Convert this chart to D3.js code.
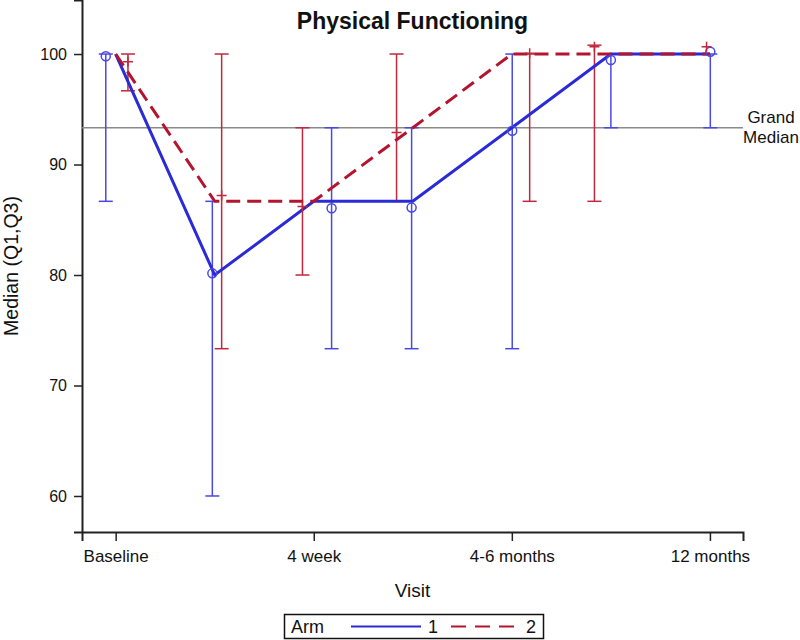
<!DOCTYPE html>
<html>
<head>
<meta charset="utf-8">
<script src="https://cdn.jsdelivr.net/npm/d3@7"></script>
<style>
	body { margin: 0; background: #fff; }
	svg { display: block; }
	svg text { font-family: 'Liberation Sans', Arial, sans-serif; fill: #111; }
	.axis path, .axis line { stroke: #222; }
	.axis text { font-size: 16px; }
	.axis--x text { font-size: 17px; }
</style>
</head>
<body>
<div class="chart"></div>
<script>
const WIDTH = 800;
const HEIGHT = 640;

const VISITS = ['Baseline', '4 week', '4-6 months', '12 months'];
const VISIT_TICKS = [1, 2, 3, 4];
const Y_TICKS = [60, 70, 80, 90, 100];
const GRAND_MEDIAN = 93.33;

// connecting lines (median per visit step)
const LINE_POS = [1, 1.5, 2, 2.5, 3, 3.5, 4];
const ARM1_LINE = [100, 80, 86.67, 86.67, 93.33, 100, 100];
const ARM2_LINE = [100, 86.67, 86.67, 93.33, 100, 100, 100];

// jittered markers with Q1-Q3 bars
const ARM1_POS = [0.95, 1.488, 2.09, 2.494, 3.002, 3.5, 4.002];
const ARM1_MEDIAN = [99.8, 80.15, 86.04, 86.1, 93.06, 99.46, 100.2];
const ARM1_Q1 = [86.67, 60, 73.33, 73.33, 73.33, 93.33, 93.33];
const ARM1_Q3 = [100, 86.67, 93.33, 93.33, 100, 100, 100];

const ARM2_POS = [1.062, 1.535, 1.943, 2.418, 3.09, 3.417, 3.983];
const ARM2_MEDIAN = [99.3, 87.2, 86.2, 92.9, 100.06, 100.67, 100.67];
const ARM2_Q1 = [96.67, 73.33, 80, 86.67, 86.67, 86.67, 100.67];
const ARM2_Q3 = [100, 100, 93.33, 100, 100, 100.8, 100.67];

const BLUE_LINE = '#2a2ad6';
const BLUE_BAR = '#4848e6';
const RED_LINE = '#b3142e';
const RED_BAR = '#c0293d';

const plot = { left: 82, right: 743, top: 0, bottom: 532 };

const x = d3.scaleLinear().domain([0.83, 4.167]).range([plot.left, plot.right]);
const y = d3.scaleLinear().domain([56.74, 104.89]).range([plot.bottom, plot.top]);

const svg = d3.select('.chart')
	.append('svg')
	.attr('width', WIDTH)
	.attr('height', HEIGHT);

function zipPoints(pos, vals) {
	return pos.map((p, i) => ({ x: p, v: vals[i] }));
}

function zipBars(pos, med, q1, q3) {
	return pos.map((p, i) => ({ x: p, med: med[i], q1: q1[i], q3: q3[i] }));
}

function drawAxes() {
	svg.append('g')
		.attr('class', 'axis axis--y')
		.attr('transform', `translate(${plot.left},0)`)
		.call(d3.axisLeft(y).tickValues(Y_TICKS).tickSizeOuter(0).tickSize(8).tickPadding(7))
		.call(g => g.select('.domain').attr('stroke-width', 2))
		.call(g => g.selectAll('.tick line').attr('stroke-width', 1.5));

	svg.append('g')
		.attr('class', 'axis axis--x')
		.attr('transform', `translate(0,${plot.bottom})`)
		.call(d3.axisBottom(x).tickValues(VISIT_TICKS).tickFormat((d, i) => VISITS[i])
			.tickSizeOuter(0).tickSize(9).tickPadding(9))
		.call(g => g.select('.domain').attr('stroke-width', 2))
		.call(g => g.selectAll('.tick line').attr('stroke-width', 1.5));

	svg.append('text')
		.attr('x', (plot.left + plot.right) / 2)
		.attr('y', 597)
		.attr('text-anchor', 'middle')
		.style('font-size', '19px')
		.text('Visit');

	svg.append('text')
		.attr('transform', `translate(18,${(plot.top + plot.bottom) / 2}) rotate(-90)`)
		.attr('text-anchor', 'middle')
		.style('font-size', '19.5px')
		.text('Median (Q1,Q3)');

	svg.append('text')
		.attr('x', (plot.left + plot.right) / 2)
		.attr('y', 29)
		.attr('text-anchor', 'middle')
		.style('font-size', '23px')
		.style('font-weight', 'bold')
		.text('Physical Functioning');
}

function drawGrand() {
	svg.append('line')
		.attr('x1', plot.left)
		.attr('x2', plot.right)
		.attr('y1', y(GRAND_MEDIAN))
		.attr('y2', y(GRAND_MEDIAN))
		.attr('stroke', '#8a8a8a')
		.attr('stroke-width', 1.5);

	const label = svg.append('text')
		.attr('text-anchor', 'middle')
		.style('font-size', '17px');
	label.append('tspan').attr('x', 771).attr('y', y(GRAND_MEDIAN) - 5).text('Grand');
	label.append('tspan').attr('x', 771).attr('y', y(GRAND_MEDIAN) + 15).text('Median');
}

function drawBars(data, color) {
	const g = svg.append('g')
		.attr('stroke', color)
		.attr('stroke-width', 1.5)
		.attr('fill', 'none');
	const bars = data.filter(d => d.q3 > d.q1);
	g.selectAll('.stem').data(bars).enter().append('line')
		.attr('x1', d => x(d.x)).attr('x2', d => x(d.x))
		.attr('y1', d => y(d.q1)).attr('y2', d => y(d.q3));
	g.selectAll('.cap-lo').data(bars).enter().append('line')
		.attr('x1', d => x(d.x) - 7).attr('x2', d => x(d.x) + 7)
		.attr('y1', d => y(d.q1)).attr('y2', d => y(d.q1));
	g.selectAll('.cap-hi').data(bars).enter().append('line')
		.attr('x1', d => x(d.x) - 7).attr('x2', d => x(d.x) + 7)
		.attr('y1', d => y(d.q3)).attr('y2', d => y(d.q3));
	return g;
}

function drawLine(data, color, dash) {
	const line = d3.line().x(d => x(d.x)).y(d => y(d.v));
	svg.append('path')
		.datum(data)
		.attr('d', line)
		.attr('fill', 'none')
		.attr('stroke', color)
		.attr('stroke-width', 3)
		.attr('stroke-dasharray', dash);
}

function drawChart() {
	drawAxes();
	drawGrand();

	const bars1 = zipBars(ARM1_POS, ARM1_MEDIAN, ARM1_Q1, ARM1_Q3);
	const bars2 = zipBars(ARM2_POS, ARM2_MEDIAN, ARM2_Q1, ARM2_Q3);

	drawBars(bars1, BLUE_BAR);
	drawBars(bars2, RED_BAR);

	drawLine(zipPoints(LINE_POS, ARM1_LINE), BLUE_LINE, null);
	drawLine(zipPoints(LINE_POS, ARM2_LINE), RED_LINE, '14 7');

	svg.append('g').selectAll('circle').data(bars1).enter().append('circle')
		.attr('cx', d => x(d.x))
		.attr('cy', d => y(d.med))
		.attr('r', 4.5)
		.attr('fill', 'none')
		.attr('stroke', BLUE_BAR)
		.attr('stroke-width', 1.5);

	svg.append('g').selectAll('path').data(bars2).enter().append('path')
		.attr('d', d => `M${x(d.x) - 5},${y(d.med)}H${x(d.x) + 5}M${x(d.x)},${y(d.med) - 5}V${y(d.med) + 5}`)
		.attr('stroke', RED_BAR)
		.attr('stroke-width', 1.5);
}

function drawLegend() {
	const g = svg.append('g');
	g.append('rect')
		.attr('x', 284.5).attr('y', 614.5)
		.attr('width', 259).attr('height', 24)
		.attr('fill', 'none').attr('stroke', '#111').attr('stroke-width', 1.5);
	g.append('text').attr('x', 291).attr('y', 633).style('font-size', '18px').text('Arm');
	g.append('line').attr('x1', 351).attr('x2', 421).attr('y1', 626.5).attr('y2', 626.5)
		.attr('stroke', BLUE_LINE).attr('stroke-width', 2);
	g.append('text').attr('x', 428).attr('y', 633).style('font-size', '18px').text('1');
	g.append('line').attr('x1', 451).attr('x2', 516).attr('y1', 626.5).attr('y2', 626.5)
		.attr('stroke', RED_LINE).attr('stroke-width', 2).attr('stroke-dasharray', '15 9');
	g.append('text').attr('x', 526).attr('y', 633).style('font-size', '18px').text('2');
}

drawChart();
drawLegend();
</script>
</body>
</html>
